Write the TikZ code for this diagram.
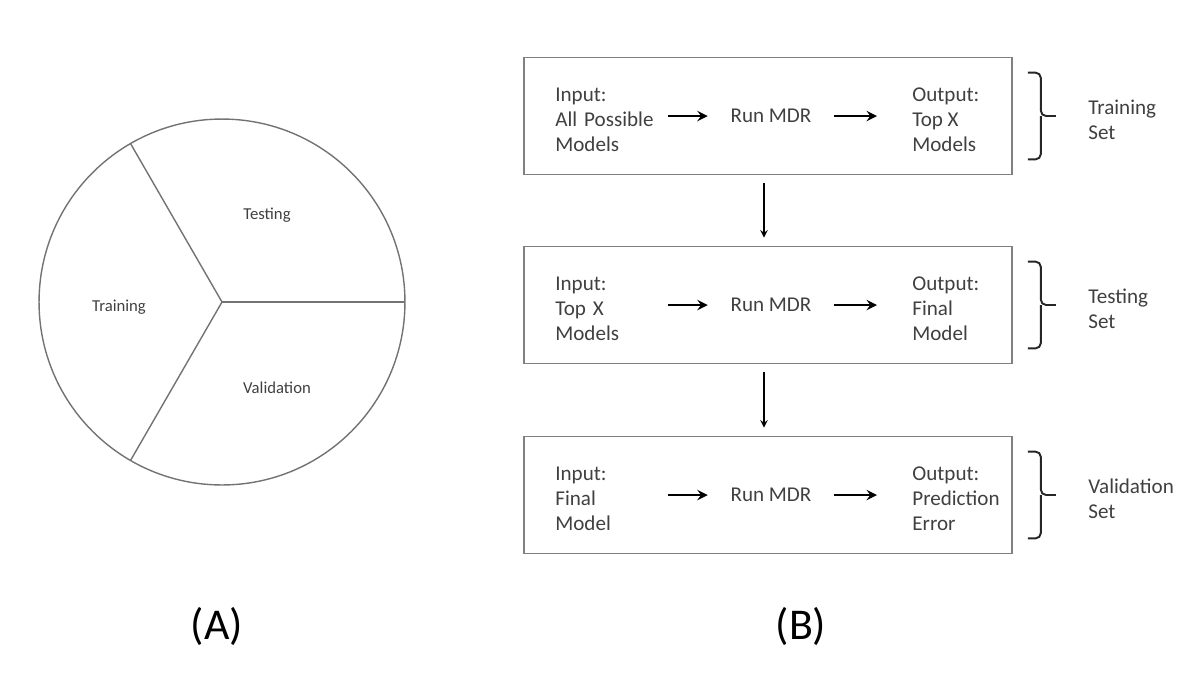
\documentclass[tikz,border=0pt]{standalone}
\usepackage{fontspec}
\setmainfont{Carlito}

\begin{document}
\begin{tikzpicture}[x=0.02cm, y=-0.02cm, >=stealth,
        box/.style={draw=black!50, line width=1pt, minimum width=9.76cm, minimum height=2.34cm},
        txt/.style={text=black!75, font=\fontsize{12}{14.2}\selectfont, align=left, inner sep=0pt},
        flow/.style={->, line width=1.6pt},
        drop/.style={->, line width=0.9pt, shorten <=0.16cm, shorten >=0.16cm},
        setbrace/.style={draw=black!85, line width=1.1pt, rounded corners=3pt},
        slice/.style={text=black!75, font=\fontsize{9.5}{11}\selectfont},
        panel/.style={font=\fontsize{25}{28}\selectfont}]
    \useasboundingbox (0,0) rectangle (1186,677);

    % Pie (A)
    \coordinate (c) at (222,302);
    \draw[draw=black!55, line width=0.8pt] (c) circle (3.66cm);
    \draw[draw=black!55, line width=0.8pt] (c) -- ++(0:3.66cm);
    \draw[draw=black!55, line width=0.8pt] (c) -- ++(120:3.66cm);
    \draw[draw=black!55, line width=0.8pt] (c) -- ++(240:3.66cm);
    \node[slice] at (267,215) (testing) {Testing};
    \node[slice] at (119,307) (training) {Training};
    \node[slice] at (277,388) (validation) {Validation};

    % Nodes (B)
    \node[box] at (768,116) (b1) {};
    \node[box] at (768,305) (b2) {};
    \node[box] at (768,495) (b3) {};

    \node[txt, anchor=west, text width=2.24cm] at (555,120) (in1) {Input:\\All Possible\\Models};
    \node[txt, inner xsep=0.45cm] at (771,116) (run1) {Run MDR};
    \node[txt, anchor=west, inner xsep=0.7cm] at (877,120) (out1) {Output:\\Top X\\Models};

    \node[txt, anchor=west, text width=2.24cm] at (555,309) (in2) {Input:\\Top X\\Models};
    \node[txt, inner xsep=0.45cm] at (771,305) (run2) {Run MDR};
    \node[txt, anchor=west, inner xsep=0.7cm] at (877,309) (out2) {Output:\\Final\\Model};

    \node[txt, anchor=west, text width=2.24cm] at (555,499) (in3) {Input:\\Final\\Model};
    \node[txt, inner xsep=0.45cm] at (771,495) (run3) {Run MDR};
    \node[txt, anchor=west, inner xsep=0.7cm] at (877,499) (out3) {Output:\\Prediction\\Error};

    \node[txt, anchor=west] at (1088,120) (set1) {Training\\Set};
    \node[txt, anchor=west] at (1088,309) (set2) {Testing\\Set};
    \node[txt, anchor=west] at (1088,499) (set3) {Validation\\Set};

    \node[panel] at (217,626) (pa) {(A)};
    \node[panel] at (801,626) (pb) {(B)};

    % Edges
    \draw[flow] (in1.east |- run1) -- (run1);
    \draw[flow] (run1) -- (out1.west |- run1);
    \draw[flow] (in2.east |- run2) -- (run2);
    \draw[flow] (run2) -- (out2.west |- run2);
    \draw[flow] (in3.east |- run3) -- (run3);
    \draw[flow] (run3) -- (out3.west |- run3);

    \draw[drop] ([xshift=-0.08cm]b1.south) -- ([xshift=-0.08cm]b2.north);
    \draw[drop] ([xshift=-0.08cm]b2.south) -- ([xshift=-0.08cm]b3.north);

    % Braces
    \draw[setbrace] ([xshift=0.3cm, yshift=-0.32cm]b1.north east) -| ([xshift=0.56cm]b1.east) -- ([xshift=0.86cm]b1.east);
    \draw[setbrace] ([xshift=0.3cm, yshift=0.32cm]b1.south east) -| ([xshift=0.56cm]b1.east);
    \draw[setbrace] ([xshift=0.3cm, yshift=-0.32cm]b2.north east) -| ([xshift=0.56cm]b2.east) -- ([xshift=0.86cm]b2.east);
    \draw[setbrace] ([xshift=0.3cm, yshift=0.32cm]b2.south east) -| ([xshift=0.56cm]b2.east);
    \draw[setbrace] ([xshift=0.3cm, yshift=-0.32cm]b3.north east) -| ([xshift=0.56cm]b3.east) -- ([xshift=0.86cm]b3.east);
    \draw[setbrace] ([xshift=0.3cm, yshift=0.32cm]b3.south east) -| ([xshift=0.56cm]b3.east);
\end{tikzpicture}
\end{document}
